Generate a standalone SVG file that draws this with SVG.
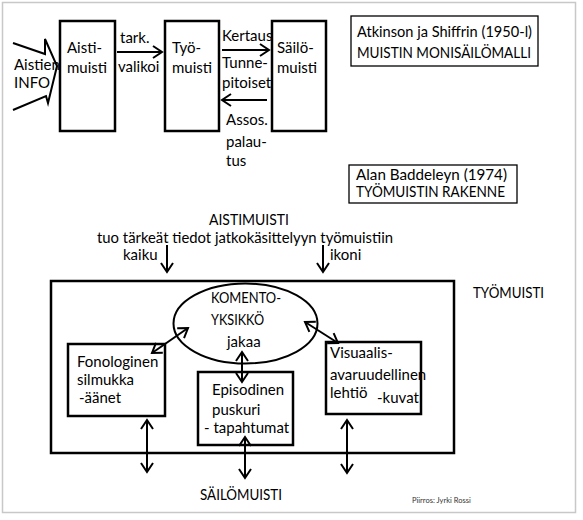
<svg xmlns="http://www.w3.org/2000/svg" width="583" height="520" viewBox="0 0 583 520">
<defs>
<style>
text{font-family:Lato,"Open Sans","Liberation Sans",sans-serif;font-size:15px;fill:#000}
.box{fill:#fff;stroke:#000;stroke-width:2.5}
.tb{fill:#fff;stroke:#000;stroke-width:1.3}
.ln{fill:none;stroke:#000;stroke-width:2}
.ar{fill:none;stroke:#000;stroke-width:2;marker-end:url(#ah)}
.da{fill:none;stroke:#000;stroke-width:2;marker-start:url(#ah);marker-end:url(#ah)}
.sm{font-size:7.5px;fill:#333}
</style>
<marker id="ah" markerUnits="userSpaceOnUse" markerWidth="16" markerHeight="16" refX="12" refY="8" orient="auto-start-reverse">
<path d="M3,2 L12,8 L3,14" fill="none" stroke="#000" stroke-width="2"/>
</marker>
</defs>
<rect x="0" y="0" width="583" height="520" fill="#fff"/>
<rect x="2.5" y="2.5" width="573" height="510" fill="none" stroke="#c8c8c8" stroke-width="1.5"/>

<g id="aistien-info">
<path class="ln" d="M13,43 L45,54 L45,39 L57,66 L48,103 L46,96 L13,110"/>
<text x="14" y="70">Aistien</text>
<text x="14" y="88">INFO</text>
</g>
<g id="aistimuisti">
<rect class="box" x="60" y="21" width="55" height="110"/>
<text x="67" y="53">Aisti-</text>
<text x="67" y="73">muisti</text>
</g>
<g id="tyomuisti">
<rect class="box" x="165" y="21" width="54" height="110"/>
<text x="172" y="53">Työ-</text>
<text x="172" y="73">muisti</text>
</g>
<g id="sailomuisti">
<rect class="box" x="272" y="21" width="54" height="110"/>
<text x="277" y="53">Säilö-</text>
<text x="277" y="73">muisti</text>
</g>
<g id="title1">
<rect class="tb" x="351" y="16" width="187" height="50"/>
<text x="357" y="37" textLength="175" lengthAdjust="spacingAndGlyphs">Atkinson ja Shiffrin (1950-l)</text>
<text x="357" y="58" textLength="174" lengthAdjust="spacingAndGlyphs">MUISTIN MONISÄILÖMALLI</text>
</g>
<g id="title2">
<rect class="tb" x="349" y="165" width="168" height="38"/>
<text x="356" y="180" textLength="151" lengthAdjust="spacingAndGlyphs">Alan Baddeleyn (1974)</text>
<text x="356" y="197" textLength="149" lengthAdjust="spacingAndGlyphs">TYÖMUISTIN RAKENNE</text>
</g>

<g id="labels">
<text x="120" y="43">tark.</text>
<text x="118" y="72">valikoi</text>
<text x="222" y="41">Kertaus</text>
<text x="222" y="68">Tunne-</text>
<text x="222" y="88">pitoiset</text>
<text x="226" y="125">Assos.</text>
<text x="226" y="147">palau-</text>
<text x="226" y="166">tus</text>
<text x="209" y="225" textLength="80" lengthAdjust="spacingAndGlyphs">AISTIMUISTI</text>
<text x="97" y="243" textLength="296" lengthAdjust="spacingAndGlyphs">tuo tärkeät tiedot jatkokäsittelyyn työmuistiin</text>
<text x="123" y="260">kaiku</text>
<text x="330" y="260">ikoni</text>
<text x="473" y="298" textLength="71" lengthAdjust="spacingAndGlyphs">TYÖMUISTI</text>
<text x="200" y="500" textLength="82" lengthAdjust="spacingAndGlyphs">SÄILÖMUISTI</text>
<text class="sm" x="412" y="503">Piirros: Jyrki Rossi</text>
</g>

<g id="tyomuisti-frame">
<rect class="box" x="51" y="281" width="403" height="172" fill="none"/>
</g>
<g id="komentoyksikko">
<ellipse cx="245.5" cy="323.5" rx="72" ry="40" fill="#fff" stroke="#000" stroke-width="2"/>
<text x="211" y="303" textLength="70" lengthAdjust="spacingAndGlyphs">KOMENTO-</text>
<text x="211" y="325" textLength="53" lengthAdjust="spacingAndGlyphs">YKSIKKÖ</text>
<text x="227" y="347">jakaa</text>
</g>
<g id="fonologinen">
<rect class="box" x="68" y="344" width="97" height="72"/>
<text x="77" y="367">Fonologinen</text>
<text x="77" y="385">silmukka</text>
<text x="79" y="403">-äänet</text>
</g>
<g id="episodinen">
<rect class="box" x="198" y="372" width="95" height="73"/>
<text x="212" y="395">Episodinen</text>
<text x="212" y="415">puskuri</text>
<text x="204" y="433">- tapahtumat</text>
</g>
<g id="visuaalis">
<rect class="box" x="326" y="342" width="95" height="72"/>
<text x="330" y="358">Visuaalis-</text>
<text x="330" y="380">avaruudellinen</text>
<text x="330" y="398">lehtiö</text>
<text x="377" y="403">-kuvat</text>
</g>

<g id="connectors">
<line class="ar" x1="117" y1="52" x2="162" y2="52"/>
<line class="ar" x1="222" y1="50" x2="269" y2="50"/>
<line class="ar" x1="267" y1="100" x2="222" y2="100"/>
<line class="ar" x1="167" y1="245" x2="167" y2="272"/>
<line class="ar" x1="323" y1="245" x2="323" y2="272"/>
<line class="da" x1="188" y1="328" x2="152" y2="353"/>
<line class="da" x1="305" y1="322" x2="338" y2="343"/>
<line class="da" x1="242" y1="352" x2="242" y2="382"/>
<line class="da" x1="147" y1="420" x2="147" y2="472"/>
<line class="da" x1="245" y1="437" x2="245" y2="478"/>
<line class="da" x1="347" y1="420" x2="347" y2="473"/>
</g>
</svg>
